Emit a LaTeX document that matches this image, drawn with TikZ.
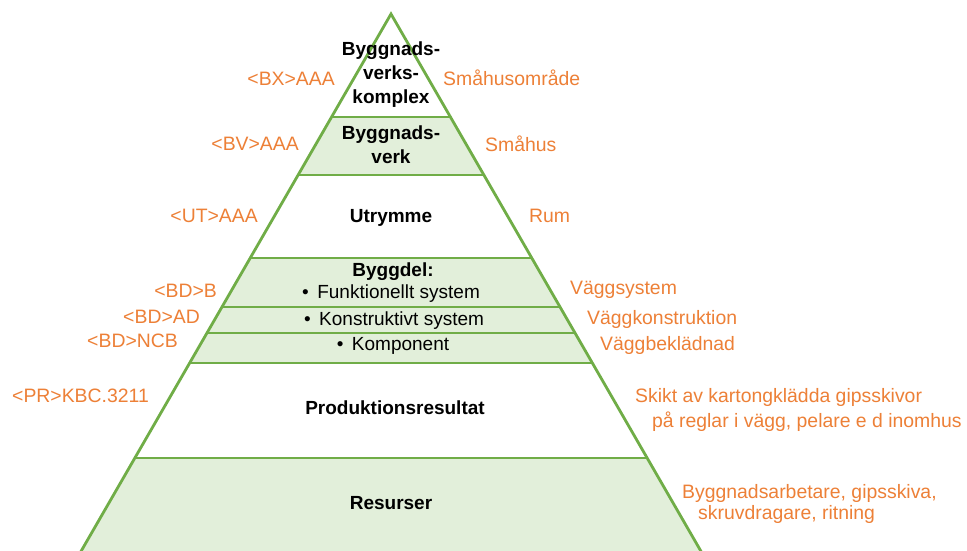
\documentclass[tikz,border=0pt]{standalone}
\usepackage{fontspec}
\setmainfont{Liberation Sans}
\definecolor{pgreen}{RGB}{112,173,71}
\definecolor{pfill}{RGB}{226,239,218}
\definecolor{porange}{RGB}{237,128,55}
\begin{document}
\begin{tikzpicture}[x=1pt,y=-1pt,
  lab/.style={font=\fontsize{19.4}{23}\selectfont, text=porange, inner sep=0pt, text height=13.8pt, text depth=4pt},
  ttl/.style={font=\fontsize{19}{24}\selectfont\bfseries, text=black, inner sep=0pt, align=center},
  itm/.style={font=\fontsize{19}{23}\selectfont, text=black, inner sep=0pt, text height=13.6pt, text depth=4pt},
  band/.style={draw=pgreen, line width=2.8pt},
  thin/.style={draw=pgreen, line width=1.6pt},
  side/.style={draw=pgreen, line width=2.8pt, line join=miter}]
\useasboundingbox (0,0) rectangle (967,551);
\clip (0,0) rectangle (967,551);
\fill[white] (0,0) rectangle (967,551);
\begin{scope}
  \clip (391,14) -- (76,560) -- (706,560) -- cycle;
  \fill[pfill] (0,117) rectangle (967,175);
  \fill[pfill] (0,258) rectangle (967,363);
  \fill[pfill] (0,458) rectangle (967,560);
  \draw[band] (0,117) -- (967,117);
  \draw[band] (0,175) -- (967,175);
  \draw[band] (0,258) -- (967,258);
  \draw[thin] (0,307) -- (967,307);
  \draw[thin] (0,333) -- (967,333);
  \draw[band] (0,363) -- (967,363);
  \draw[band] (0,458) -- (967,458);
\end{scope}
\draw[side] (76,560) -- (391,14) -- (706,560);

% titles
\node[ttl] (t1) at (391,75) {Byggnads-\\verks-\\komplex};
\node[ttl] (t2) at (391,145) {Byggnads-\\verk};
\node[ttl, text height=13.6pt, text depth=4pt] (t3) at (391,218) {Utrymme};
\node[ttl, text height=13.6pt, text depth=4pt] (t4) at (393,272) {Byggdel:};
\node[itm] (b1) at (391,294) {•\hspace{0.45em}Funktionellt system};
\node[itm] (b2) at (394,321) {•\hspace{0.45em}Konstruktivt system};
\node[itm] (b3) at (393,346) {•\hspace{0.45em}Komponent};
\node[ttl, text height=13.6pt, text depth=4pt] (t5) at (395,410) {Produktionsresultat};
\node[ttl, text height=13.6pt, text depth=4pt] (t6) at (391,505) {Resurser};

% left labels
\node[lab, anchor=east] (l1) at (335,81) {<BX>AAA};
\node[lab, anchor=east] (l2) at (299,146) {<BV>AAA};
\node[lab, anchor=east] (l3) at (258,218) {<UT>AAA};
\node[lab, anchor=east] (l4) at (217,293) {<BD>B};
\node[lab, anchor=east] (l5) at (200,319) {<BD>AD};
\node[lab, anchor=east] (l6) at (178,343) {<BD>NCB};
\node[lab, anchor=west] (l7) at (12,398) {<PR>KBC.3211};

% right labels
\node[lab, anchor=west] (r1) at (443,81) {Småhusområde};
\node[lab, anchor=west] (r2) at (485,147) {Småhus};
\node[lab, anchor=west] (r3) at (529,218) {Rum};
\node[lab, anchor=west] (r4) at (570,290) {Väggsystem};
\node[lab, anchor=west] (r5) at (587,320) {Väggkonstruktion};
\node[lab, anchor=west] (r6) at (600,346) {Väggbeklädnad};
\node[lab, anchor=west] (r7) at (635,398) {Skikt av kartongklädda gipsskivor};
\node[lab, anchor=west] (r8) at (652,423) {på reglar i vägg, pelare e d inomhus};
\node[lab, anchor=west] (r9) at (682,494) {Byggnadsarbetare, gipsskiva,};
\node[lab, anchor=west] (r10) at (698,515) {skruvdragare, ritning};
\end{tikzpicture}
\end{document}
